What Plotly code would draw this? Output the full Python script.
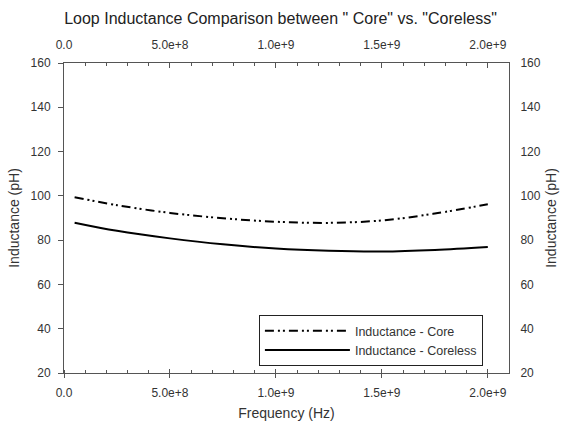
import plotly.graph_objects as go

freq_hz = [5e7, 2.5e8, 5e8, 7.5e8, 1.0e9, 1.25e9, 1.5e9, 1.75e9, 2.0e9]
core_ph = [99.4, 95.8, 92.3, 89.9, 88.3, 87.8, 88.9, 92.0, 96.2]
coreless_ph = [87.9, 84.2, 80.8, 78.1, 76.2, 75.2, 74.9, 75.6, 76.9]

x_tickvals = [0, 5e8, 1.0e9, 1.5e9, 2.0e9]
x_ticktext = ["0.0", "5.0e+8", "1.0e+9", "1.5e+9", "2.0e+9"]
y_tickvals = [20, 40, 60, 80, 100, 120, 140, 160]

FONT = "Liberation Sans, Arial, sans-serif"
AX = "#555555"
TXT = "#333333"
XR = [0, 2.1e9]
YR = [20, 160]

fig = go.Figure()
fig.add_trace(go.Scatter(
    x=freq_hz, y=core_ph, mode="lines", name="Inductance - Core",
    line=dict(color="black", width=2, dash="9px,4px,2px,3px,2px,4px", shape="spline"),
))
fig.add_trace(go.Scatter(
    x=freq_hz, y=coreless_ph, mode="lines", name="Inductance - Coreless",
    line=dict(color="black", width=2, shape="spline"),
))
# invisible traces to activate secondary axes
fig.add_trace(go.Scatter(x=[None], y=[None], xaxis="x2", yaxis="y2", showlegend=False, hoverinfo="skip"))
fig.add_trace(go.Scatter(x=[None], y=[None], xaxis="x3", yaxis="y", showlegend=False, hoverinfo="skip"))

tickfont = dict(family=FONT, size=12, color=TXT)
titlefont = dict(family=FONT, size=14, color=TXT)

fig.update_layout(
    width=561, height=424,
    margin=dict(l=64, r=52, t=63, b=51),
    paper_bgcolor="white", plot_bgcolor="white",
    font=dict(family=FONT, color=TXT),
    title=dict(text='Loop Inductance Comparison between " Core" vs. "Coreless"',
               x=0.5, xanchor="center", y=0.957, yanchor="middle",
               font=dict(family=FONT, size=16, color="#222222")),
    xaxis=dict(range=XR, tickvals=x_tickvals, ticktext=x_ticktext, automargin=False,
               ticks="outside", ticklen=4, tickcolor=AX, tickwidth=1,
               minor=dict(ticks="inside", ticklen=3, tickcolor=AX, dtick=1e8, tick0=0),
               showline=True, linecolor=AX, linewidth=1, showgrid=False, zeroline=False,
               tickfont=tickfont, ticklabelstandoff=5,
               title=dict(text="Frequency (Hz)", font=titlefont, standoff=8)),
    xaxis3=dict(range=XR, overlaying="x", side="bottom", tickvals=x_tickvals, automargin=False,
                showticklabels=False, ticks="inside", ticklen=4, tickcolor=AX,
                showline=False, showgrid=False, zeroline=False),
    xaxis2=dict(range=XR, overlaying="x", side="top", tickvals=x_tickvals, ticktext=x_ticktext,
                automargin=False, ticks="inside", ticklen=5, tickcolor=AX,
                minor=dict(ticks="inside", ticklen=3, tickcolor=AX, dtick=1e8, tick0=0),
                showline=True, linecolor=AX, linewidth=1, showgrid=False, zeroline=False,
                tickfont=tickfont, ticklabelstandoff=8),
    yaxis=dict(range=YR, tickvals=y_tickvals, ticks="outside", ticklen=5, tickcolor=AX,
               automargin=False,
               showline=True, linecolor=AX, linewidth=1, showgrid=False, zeroline=False,
               tickfont=tickfont, ticklabelstandoff=5,
               title=dict(text="Inductance (pH)", font=titlefont, standoff=7)),
    yaxis2=dict(range=YR, overlaying="y", side="right", tickvals=y_tickvals, ticks="",
                automargin=False,
                showline=True, linecolor=AX, linewidth=1, showgrid=False, zeroline=False,
                tickfont=tickfont, ticklabelstandoff=8,
                title=dict(text="Inductance (pH)", font=titlefont, standoff=6)),
    legend=dict(x=0.438, y=0.187, xanchor="left", yanchor="top",
                bordercolor="#222222", borderwidth=1, bgcolor="white",
                itemwidth=85, tracegroupgap=0,
                font=dict(family=FONT, size=12.5, color=TXT)),
    showlegend=True,
)

fig.write_html("out.html")
